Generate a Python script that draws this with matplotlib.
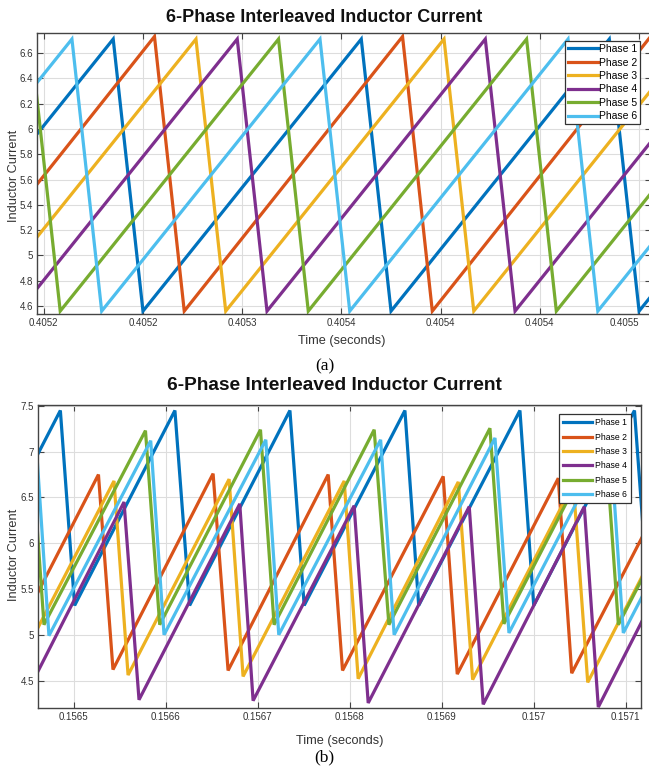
import numpy as np
import matplotlib
matplotlib.use("Agg")
import matplotlib.pyplot as plt

plt.rcParams['font.family'] = ['Liberation Sans', 'DejaVu Sans']

# ---------------- data ----------------
phase_names = ["Phase 1", "Phase 2", "Phase 3", "Phase 4", "Phase 5", "Phase 6"]
colors = ["#0072BD", "#D95319", "#EDB120", "#7E2F8E", "#77AC30", "#4DBEEE"]

# (a) time in microseconds after 0.4052 s, current in A
a_base = 0.4052
a_t = [
    [-125, -15, 0, 110, 125, 235, 250, 360],
    [-104.2, 5.8, 20.8, 130.8, 145.8, 255.8, 270.8],
    [-83.3, 26.7, 41.7, 151.7, 166.7, 276.7, 291.7],
    [-62.5, 47.5, 62.5, 172.5, 187.5, 297.5, 312.5],
    [-166.7, -56.7, -41.7, 68.3, 83.3, 193.3, 208.3, 318.3],
    [-145.8, -35.8, -20.8, 89.2, 104.2, 214.2, 229.2, 339.2],
]
a_i = [
    [4.56, 6.71, 4.56, 6.71, 4.56, 6.71, 4.56, 6.71],
    [4.56, 6.73, 4.56, 6.73, 4.56, 6.73, 4.56],
    [4.56, 6.71, 4.56, 6.71, 4.56, 6.71, 4.56],
    [4.56, 6.71, 4.56, 6.71, 4.56, 6.71, 4.56],
    [4.56, 6.71, 4.56, 6.71, 4.56, 6.71, 4.56, 6.71],
    [4.56, 6.71, 4.56, 6.71, 4.56, 6.71, 4.56, 6.71],
]
a_xticks = [-50, 0, 50, 100, 150, 200, 250]
a_xticklabels = ["0.4052", "0.4052", "0.4053", "0.4054", "0.4054", "0.4054", "0.4055"]
a_yticks = [4.6, 4.8, 5.0, 5.2, 5.4, 5.6, 5.8, 6.0, 6.2, 6.4, 6.6]
a_yticklabels = ["4.6", "4.8", "5", "5.2", "5.4", "5.6", "5.8", "6", "6.2", "6.4", "6.6"]

# (b) time in microseconds after 0.1565 s
b_base = 0.1565
b_t = [
    [-124, -14.5, 1, 110, 126, 235, 250.5, 360, 375, 485, 500, 609.5, 625],
    [-82, 26.9, 42.7, 151.5, 167.8, 276.6, 292.2, 401.6, 416.9, 526.7, 541.3, 651],
    [-66, 43.8, 59.1, 168.9, 184.1, 294.0, 309.2, 418.0, 433.6, 543, 558.7, 668],
    [-54, 54.7, 71.0, 180.5, 195.0, 304.8, 320.1, 429.9, 445.1, 555.0, 570.2, 680],
    [-47, -32.3, 78.0, 93.5, 203.0, 217.8, 326.6, 342.6, 452.4, 467.6, 577, 592.0, 702],
    [-41, -26.9, 83.7, 98.2, 208.8, 222.9, 333.6, 348.3, 457.9, 473.1, 583, 597.4, 707],
]
b_i = [
    [5.32, 7.45, 5.32, 7.45, 5.32, 7.45, 5.32, 7.45, 5.32, 7.45, 5.32, 7.45, 5.32],
    [4.62, 6.75, 4.62, 6.76, 4.61, 6.75, 4.61, 6.73, 4.57, 6.71, 4.58, 6.71],
    [4.55, 6.68, 4.56, 6.70, 4.545, 6.68, 4.52, 6.67, 4.51, 6.65, 4.48, 6.62],
    [4.30, 6.45, 4.29, 6.43, 4.28, 6.41, 4.255, 6.40, 4.24, 6.40, 4.21, 6.38],
    [7.22, 5.11, 7.23, 5.11, 7.24, 5.11, 7.24, 5.11, 7.256, 5.12, 7.25, 5.11, 7.25],
    [7.12, 4.99, 7.12, 5.00, 7.13, 5.00, 7.13, 5.00, 7.15, 5.02, 7.15, 5.02, 7.15],
]
b_xticks = [0, 100, 200, 300, 400, 500, 600]
b_xticklabels = ["0.1565", "0.1566", "0.1567", "0.1568", "0.1569", "0.157", "0.1571"]
b_yticks = [4.5, 5.0, 5.5, 6.0, 6.5, 7.0, 7.5]
b_yticklabels = ["4.5", "5", "5.5", "6", "6.5", "7", "7.5"]

title = "6-Phase Interleaved Inductor Current"
xlabel = "Time (seconds)"
ylabel = "Inductor Current"

# ---------------- figure ----------------
W, H = 649, 766
fig = plt.figure(figsize=(W / 100, H / 100), dpi=100)


def px_axes(l, t, r, b):
    return fig.add_axes([l / W, 1 - b / H, (r - l) / W, (b - t) / H])


def style(ax, base, xt, xtl, yt, ytl, xlim, ylim):
    ax.set_xlim(base + xlim[0] * 1e-6, base + xlim[1] * 1e-6)
    ax.set_ylim(*ylim)
    ax.set_xticks([base + v * 1e-6 for v in xt])
    ax.set_xticklabels(xtl, fontsize=7, color="#333333")
    ax.set_yticks(yt)
    ax.set_yticklabels(ytl, fontsize=7, color="#333333")
    ax.grid(True, color="#dddddd", lw=0.8)
    ax.set_axisbelow(True)
    ax.tick_params(direction="in", top=True, right=True, length=4, width=0.8,
                   color="#444444", pad=3)
    for s in ax.spines.values():
        s.set_color("#444444")
        s.set_linewidth(1.0)


# (a)
ax1 = px_axes(37, 33, 651, 314)
for k in range(6):
    ax1.plot([a_base + v * 1e-6 for v in a_t[k]], a_i[k], color=colors[k],
             lw=2.3, label=phase_names[k], solid_joinstyle="miter")
style(ax1, a_base, a_xticks, a_xticklabels, a_yticks, a_yticklabels,
      (-53.4, 256), (4.537, 6.758))
# last tick label sits at the figure edge; anchor it by its right end
ax1.get_xticklabels()[-1].set_horizontalalignment("right")
leg1 = ax1.legend(loc="upper right", bbox_to_anchor=(640 / W, 1 - 41 / H),
                  bbox_transform=fig.transFigure, fontsize=7.5, frameon=True,
                  fancybox=False, edgecolor="#333333", framealpha=1,
                  handlelength=2.8, handletextpad=0.1, labelspacing=0.33,
                  borderpad=0.3, borderaxespad=0)
leg1.get_frame().set_linewidth(0.9)

# (b)
ax2 = px_axes(38, 405, 641, 708)
for k in range(6):
    ax2.plot([b_base + v * 1e-6 for v in b_t[k]], b_i[k], color=colors[k],
             lw=2.3, label=phase_names[k], solid_joinstyle="miter")
style(ax2, b_base, b_xticks, b_xticklabels, b_yticks, b_yticklabels,
      (-38.8, 616.6), (4.20, 7.51))
leg2 = ax2.legend(loc="upper right", bbox_to_anchor=(631 / W, 1 - 414 / H),
                  bbox_transform=fig.transFigure, fontsize=6.2, frameon=True,
                  fancybox=False, edgecolor="#333333", framealpha=1,
                  handlelength=3.4, handletextpad=0.3, labelspacing=0.62,
                  borderpad=0.5, borderaxespad=0)
leg2.get_frame().set_linewidth(0.9)

# titles, labels, captions
fig.text(324.5 / W, 1 - 17 / H, title, ha="center", va="center",
         fontsize=13, fontweight="bold", color="#111111")
fig.text(334 / W, 1 - 386 / H, title, ha="center", va="center",
         fontsize=13.8, fontweight="bold", color="#111111")
fig.text(342 / W, 1 - 341 / H, xlabel, ha="center", va="center", fontsize=9.2, color="#333333")
fig.text(340 / W, 1 - 741 / H, xlabel, ha="center", va="center", fontsize=9.2, color="#333333")
fig.text(14 / W, 1 - 176 / H, ylabel, ha="center", va="center", rotation=90,
         fontsize=9.2, color="#333333")
fig.text(14 / W, 1 - 555 / H, ylabel, ha="center", va="center", rotation=90,
         fontsize=9.2, color="#333333")
fig.text(324.5 / W, 1 - 366 / H, "(a)", ha="center", va="center", fontsize=12.5,
         family=["Liberation Serif", "DejaVu Serif"])
fig.text(324.5 / W, 1 - 757 / H, "(b)", ha="center", va="center", fontsize=12.5,
         family=["Liberation Serif", "DejaVu Serif"])

fig.savefig("out.png", dpi=100)
